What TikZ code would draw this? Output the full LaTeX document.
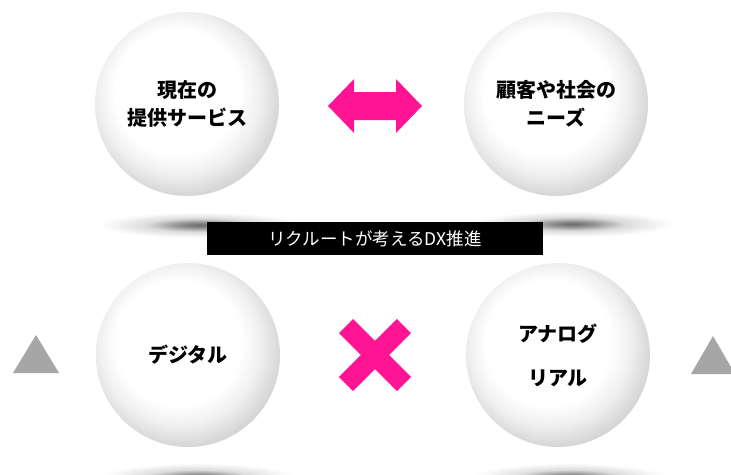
\documentclass[tikz,border=0pt]{standalone}
\usepackage{fontspec}
\newfontfamily\jp{Noto Sans CJK JP}
\definecolor{hotpink}{RGB}{255,20,147}
\definecolor{trigray}{RGB}{166,166,166}
\pgfdeclareradialshading{sphshade}{\pgfpoint{-4bp}{5bp}}{color(0bp)=(white); color(17bp)=(white); color(22bp)=(black!6); color(26bp)=(black!14); color(30bp)=(black!21); color(50bp)=(black!21)}
\pgfdeclareradialshading{shadowshade}{\pgfpointorigin}{color(0bp)=(black!58); color(5bp)=(black!44); color(13bp)=(black!14); color(22bp)=(black!3); color(25bp)=(white); color(50bp)=(white)}
\tikzset{
  sphere/.style={circle, minimum size=184pt, inner sep=0pt, shading=sphshade, align=center,
    font=\jp\bfseries\fontsize{20pt}{28pt}\selectfont},
  floorshadow/.style={shading=shadowshade},
  banner/.style={fill=black, text=white, minimum width=336pt, minimum height=33pt, inner sep=0pt,
    font=\jp\fontsize{17.5pt}{20pt}\selectfont},
  pinkfill/.style={fill=hotpink},
  pinkstroke/.style={draw=hotpink, line width=20pt},
  trishape/.style={fill=trigray}
}
\begin{document}
\begin{tikzpicture}[x=1pt,y=-1pt]
\useasboundingbox (0,0) rectangle (731,474);
\clip (0,0) rectangle (731,474);
% floor shadows
\shade[floorshadow] (200,225) ellipse [x radius=102pt, y radius=13pt];
\shade[floorshadow] (572,224) ellipse [x radius=102pt, y radius=13pt];
\shade[floorshadow] (198,477) ellipse [x radius=97pt, y radius=14pt];
\shade[floorshadow] (570,477) ellipse [x radius=97pt, y radius=14pt];
% spheres
\node[sphere] (cur) at (187,104) {現在の\\提供サービス};
\node[sphere] (needs) at (556,104) {顧客や社会の\\ニーズ};
\node[sphere] (dig) at (188,355) {デジタル};
\node[sphere] (ana) at (558,355) {アナログ\\[16pt]リアル};
% double arrow
\fill[pinkfill] (328,106) -- (354,79) -- (354,92) -- (396,92) -- (396,79) -- (422,106)
  -- (396,133) -- (396,120) -- (354,120) -- (354,133) -- cycle;
% cross
\coordinate (xa) at (346,326);
\coordinate (xb) at (404,384);
\coordinate (xc) at (404,326);
\coordinate (xd) at (346,384);
\draw[pinkstroke] (xa) -- (xb);
\draw[pinkstroke] (xc) -- (xd);
% banner
\node[banner] (dx) at (375,238.5) {リクルートが考えるDX推進};
% triangles
\fill[trishape] (13,373) -- (59,373) -- (36,335) -- cycle;
\fill[trishape] (691,374) -- (735,374) -- (713,336) -- cycle;
\end{tikzpicture}
\end{document}
